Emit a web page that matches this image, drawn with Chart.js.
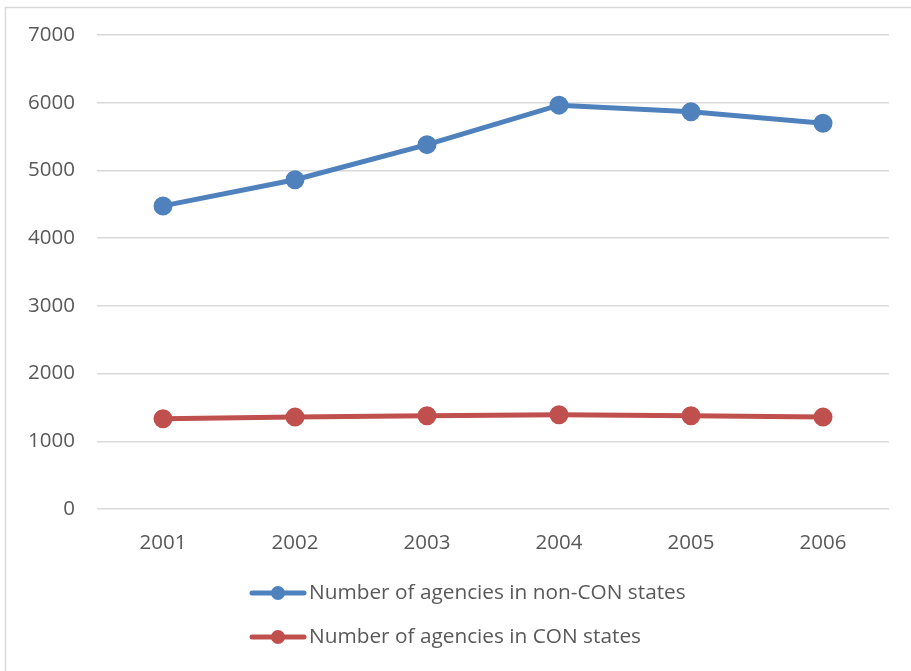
<!DOCTYPE html>
<html>
<head>
<meta charset="utf-8">
<script src="https://cdn.jsdelivr.net/npm/chart.js@4/dist/chart.umd.min.js"></script>
<style>
  html, body { margin: 0; padding: 0; background: #fff; }
  #wrap { width: 911px; height: 671px; }
</style>
</head>
<body>
<div id="wrap"><canvas id="agencyChart"></canvas></div>
<script>
const years = ["2001", "2002", "2003", "2004", "2005", "2006"];
const nonConAgencies = [4476, 4862, 5381, 5964, 5866, 5697];
const conAgencies = [1334, 1357, 1378, 1393, 1378, 1357];
const yTicks = [0, 1000, 2000, 3000, 4000, 5000, 6000, 7000];

const BLUE = "#4F81BD";
const RED = "#C0504D";
const TEXT = "#595959";
const GRID = "#D9D9D9";
const FONT = "'Open Sans', sans-serif";

Chart.defaults.font.family = FONT;
Chart.defaults.color = TEXT;

// white background plus the thin frame round the whole chart
const frame = {
  id: "frame",
  beforeDraw(chart) {
    const ctx = chart.ctx;
    ctx.save();
    ctx.fillStyle = "#fff";
    ctx.fillRect(0, 0, chart.width, chart.height);
    ctx.strokeStyle = GRID;
    ctx.lineWidth = 1.5;
    ctx.strokeRect(5.5, 7.5, chart.width + 20, chart.height + 20);
    ctx.restore();
  },
};

// two-row legend under the x axis
const stackedLegend = {
  id: "stackedLegend",
  afterDraw(chart) {
    const ctx = chart.ctx;
    const rows = [593, 637];
    ctx.save();
    chart.data.datasets.forEach((ds, i) => {
      const y = rows[i];
      ctx.strokeStyle = ds.borderColor;
      ctx.lineWidth = 5;
      ctx.lineCap = "round";
      ctx.beginPath();
      ctx.moveTo(252, y);
      ctx.lineTo(304, y);
      ctx.stroke();
      ctx.fillStyle = ds.borderColor;
      ctx.beginPath();
      ctx.arc(278, y, 7, 0, Math.PI * 2);
      ctx.fill();
      ctx.fillStyle = TEXT;
      ctx.font = "20.8px " + FONT;
      ctx.textAlign = "left";
      ctx.textBaseline = "middle";
      ctx.fillText(ds.label, 309, y);
    });
    ctx.restore();
  },
};

new Chart(document.getElementById("agencyChart"), {
  type: "line",
  data: {
    labels: years,
    datasets: [
      {
        label: "Number of agencies in non-CON states",
        data: nonConAgencies,
        borderColor: BLUE,
        backgroundColor: BLUE,
        borderWidth: 5,
        pointRadius: 7,
        pointHoverRadius: 7,
        tension: 0,
        fill: false,
      },
      {
        label: "Number of agencies in CON states",
        data: conAgencies,
        borderColor: RED,
        backgroundColor: RED,
        borderWidth: 5,
        pointRadius: 7,
        pointHoverRadius: 7,
        tension: 0,
        fill: false,
      },
    ],
  },
  options: {
    responsive: true,
    maintainAspectRatio: false,
    animation: false,
    layout: { padding: { top: 35, right: 22, left: 0, bottom: 0 } },
    plugins: {
      legend: { display: false },
      tooltip: { enabled: false },
    },
    scales: {
      x: {
        offset: true,
        grid: { display: false, drawTicks: false },
        border: { display: false },
        ticks: { padding: 22, font: { size: 20.5 }, color: TEXT },
        afterFit(scale) {
          scale.height = 162;
        },
      },
      y: {
        min: 0,
        max: 7000,
        afterBuildTicks(scale) {
          scale.ticks = yTicks.map((v) => ({ value: v }));
        },
        grid: { color: GRID, lineWidth: 1.5, drawTicks: false },
        border: { display: false },
        ticks: {
          padding: 22,
          font: { size: 20.5 },
          color: TEXT,
          callback: (value) => String(value),
        },
        afterFit(scale) {
          scale.width = 97;
        },
      },
    },
  },
  plugins: [frame, stackedLegend],
});
</script>
</body>
</html>
